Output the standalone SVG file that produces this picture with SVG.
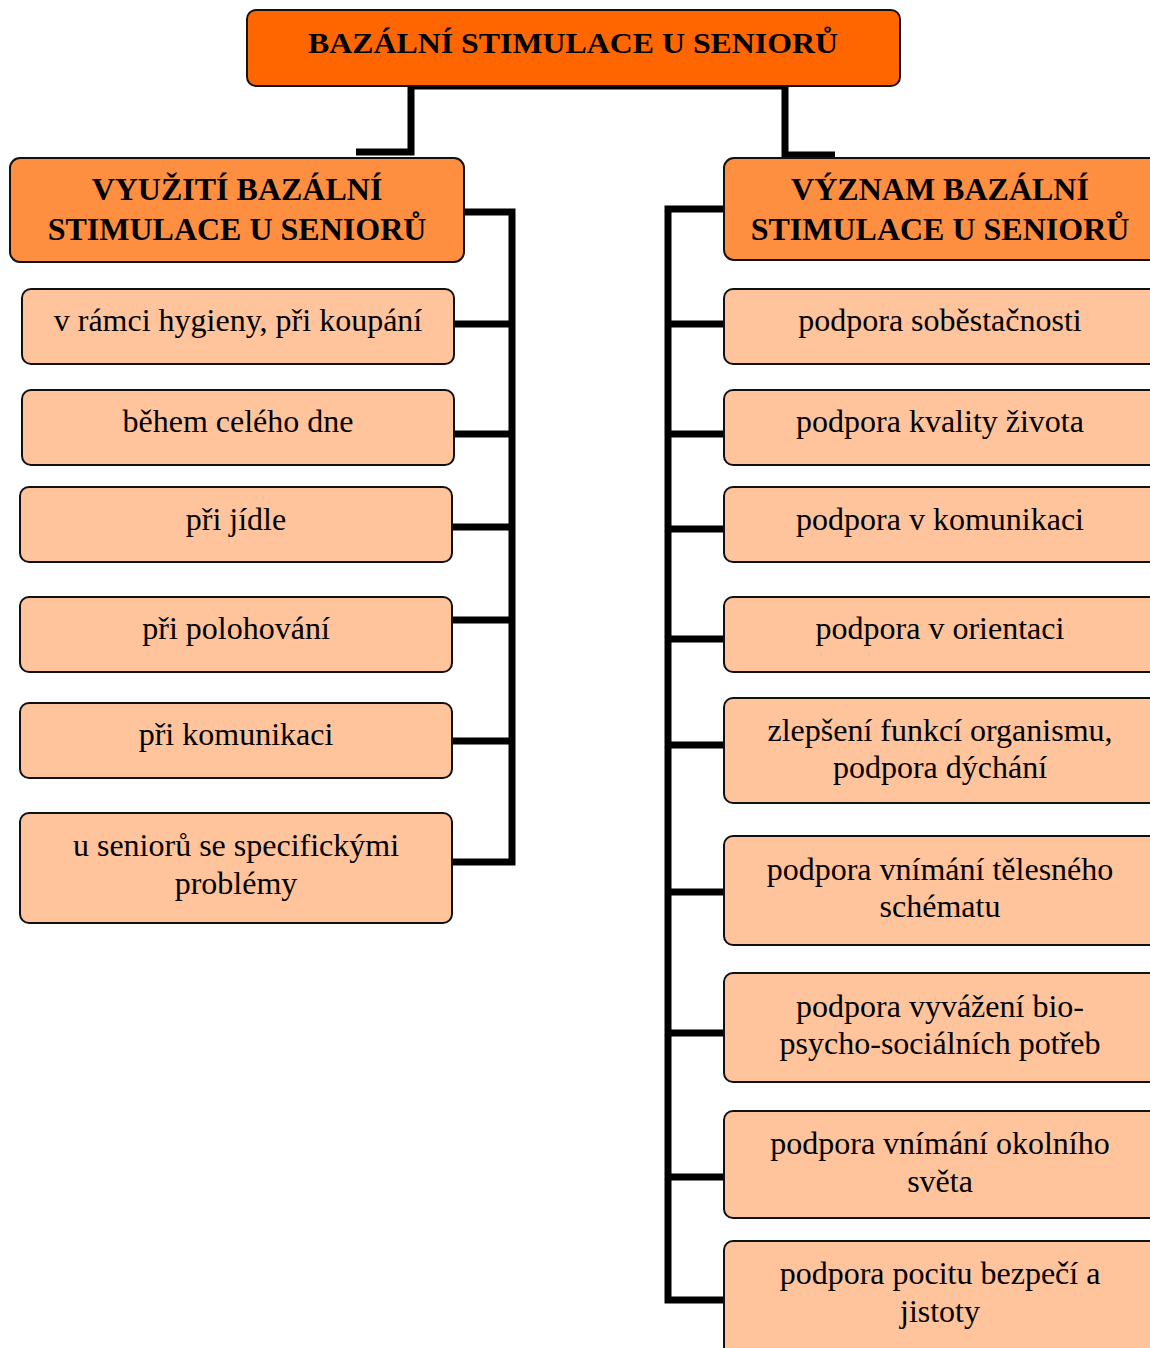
<svg xmlns="http://www.w3.org/2000/svg" width="1150" height="1348" viewBox="0 0 1150 1348">
<style>
.top{fill:#FF6600;stroke:#111;stroke-width:2}
.hd{fill:#FF8F40;stroke:#111;stroke-width:2}
.ch{fill:#FFC49B;stroke:#111;stroke-width:2}
text{font-family:"Liberation Serif","Times New Roman",serif;fill:#000;text-anchor:middle}
.b{font-weight:bold;font-size:32px}
.tb{font-weight:bold;font-size:30px}
.t{font-size:32px}
.con{fill:none;stroke:#000;stroke-width:7;stroke-linecap:butt;stroke-linejoin:miter}
</style>
<rect width="1150" height="1348" fill="#fff"/>
<g id="connectors">
<path class="con" d="M356,152 H411 V86 H785 V155 H835"/>
<path class="con" d="M461,212 H512 V862 H450"/>
<path class="con" d="M455,324 H512 M450,434 H512 M452,527 H512 M450,620 H512 M450,741 H512"/>
<path class="con" d="M724,209 H668 V1300 H724"/>
<path class="con" d="M668,324 H724 M668,434 H724 M668,529 H724 M668,639 H724 M668,745 H724 M668,892 H724 M668,1033 H724 M668,1177 H724"/>
</g>
<g id="root"><rect class="top" x="247" y="10" width="653" height="76" rx="9"/><text class="tb" x="573" y="53" textLength="530" lengthAdjust="spacingAndGlyphs">BAZÁLNÍ STIMULACE U SENIORŮ</text></g>
<g id="left-head"><rect class="hd" x="10" y="158" width="454" height="104" rx="10"/><text class="b" x="237" y="200">VYUŽITÍ BAZÁLNÍ</text><text class="b" x="237" y="240">STIMULACE U SENIORŮ</text></g>
<g id="right-head"><rect class="hd" x="724" y="158" width="436" height="102" rx="10"/><text class="b" x="940" y="200">VÝZNAM BAZÁLNÍ</text><text class="b" x="940" y="240">STIMULACE U SENIORŮ</text></g>
<g id="l1"><rect class="ch" x="22" y="289" width="432" height="75" rx="9"/><text class="t" x="238" y="331">v rámci hygieny, při koupání</text></g>
<g id="l2"><rect class="ch" x="22" y="390" width="432" height="75" rx="9"/><text class="t" x="238" y="432">během celého dne</text></g>
<g id="l3"><rect class="ch" x="20" y="487" width="432" height="75" rx="9"/><text class="t" x="236" y="530">při jídle</text></g>
<g id="l4"><rect class="ch" x="20" y="597" width="432" height="75" rx="9"/><text class="t" x="236" y="639">při polohování</text></g>
<g id="l5"><rect class="ch" x="20" y="703" width="432" height="75" rx="9"/><text class="t" x="236" y="745">při komunikaci</text></g>
<g id="l6"><rect class="ch" x="20" y="813" width="432" height="110" rx="9"/><text class="t" x="236" y="856">u seniorů se specifickými</text><text class="t" x="236" y="894">problémy</text></g>
<g id="r1"><rect class="ch" x="724" y="289" width="436" height="75" rx="9"/><text class="t" x="940" y="331">podpora soběstačnosti</text></g>
<g id="r2"><rect class="ch" x="724" y="390" width="436" height="75" rx="9"/><text class="t" x="940" y="432">podpora kvality života</text></g>
<g id="r3"><rect class="ch" x="724" y="487" width="436" height="75" rx="9"/><text class="t" x="940" y="530">podpora v komunikaci</text></g>
<g id="r4"><rect class="ch" x="724" y="597" width="436" height="75" rx="9"/><text class="t" x="940" y="639">podpora v orientaci</text></g>
<g id="r5"><rect class="ch" x="724" y="698" width="436" height="105" rx="9"/><text class="t" x="940" y="741">zlepšení funkcí organismu,</text><text class="t" x="940" y="778">podpora dýchání</text></g>
<g id="r6"><rect class="ch" x="724" y="836" width="436" height="109" rx="9"/><text class="t" x="940" y="880">podpora vnímání tělesného</text><text class="t" x="940" y="917">schématu</text></g>
<g id="r7"><rect class="ch" x="724" y="973" width="436" height="109" rx="9"/><text class="t" x="940" y="1017">podpora vyvážení bio-</text><text class="t" x="940" y="1054">psycho-sociálních potřeb</text></g>
<g id="r8"><rect class="ch" x="724" y="1111" width="436" height="107" rx="9"/><text class="t" x="940" y="1154">podpora vnímání okolního</text><text class="t" x="940" y="1192">světa</text></g>
<g id="r9"><rect class="ch" x="724" y="1241" width="436" height="120" rx="9"/><text class="t" x="940" y="1284">podpora pocitu bezpečí a</text><text class="t" x="940" y="1322">jistoty</text></g>
</svg>
